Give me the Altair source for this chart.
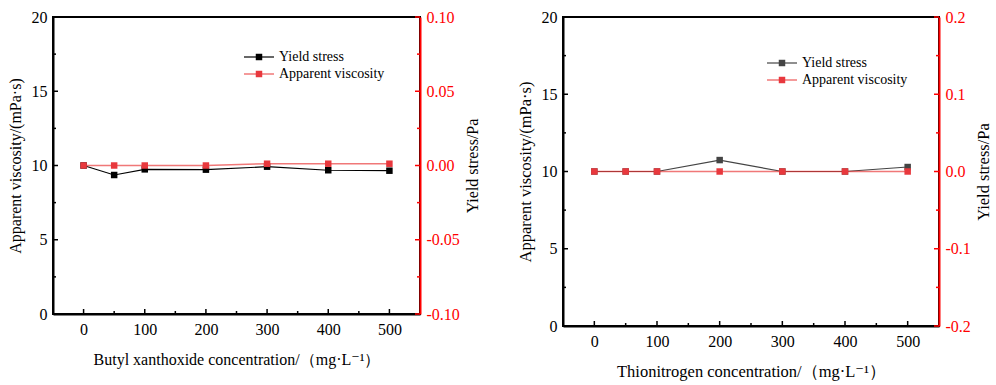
import altair as alt
import pandas as pd

# ---- data ----
conc = [0, 50, 100, 200, 300, 400, 500]
bx_black = [10.0, 9.36, 9.74, 9.72, 9.92, 9.68, 9.65]       # left panel, left axis
bx_red = [0.0, 0.0, 0.0, 0.0, 0.0012, 0.0012, 0.0012]         # left panel, right axis
tn_black = [10.0, 10.0, 10.0, 10.74, 10.0, 10.0, 10.29]     # right panel, left axis
tn_red = [0.0, 0.0, 0.0, 0.0, 0.0, 0.0, 0.0]                  # right panel, right axis

x_major = [0, 100, 200, 300, 400, 500]
x_minor = [50, 150, 250, 350, 450]
yl_major = [0, 5, 10, 15, 20]
yl_minor = [2.5, 7.5, 12.5, 17.5]
bx_r_major = [-0.1, -0.05, 0.0, 0.05, 0.1]
bx_r_minor = [-0.075, -0.025, 0.025, 0.075]
tn_r_major = [-0.2, -0.1, 0.0, 0.1, 0.2]
tn_r_minor = [-0.15, -0.05, 0.05, 0.15]

series_names = ["Yield stress", "Apparent viscosity"]
x_titles = ["Butyl xanthoxide concentration/（mg·L⁻¹）", "Thionitrogen concentration/（mg·L⁻¹）"]
y_left_title = "Apparent viscosity/(mPa·s)"
y_right_title = "Yield stress/Pa"

SERIF = "'Liberation Serif', 'Times New Roman', Times, 'DejaVu Serif', serif"
RED_AXIS = "#ff0000"
RED_MARK = "#e8383d"


def panel(black_vals, red_vals, xtitle, r_domain, r_major, r_minor, r_fmt,
          w, h, black, leg_x, leg_y, tsize):
    df = pd.DataFrame({"conc": conc, "black": black_vals, "red": red_vals})
    one = pd.DataFrame({"a": [0]})

    common = dict(labelFont=SERIF, titleFont=SERIF, labelFontSize=16,
                  titleFontSize=tsize, titleFontWeight="normal", grid=False,
                  tickSize=0, domainWidth=2)

    xscale = alt.Scale(domain=[-50, 550], nice=False, zero=False)
    xaxis = alt.Axis(values=x_major, title=xtitle, labelPadding=7, titlePadding=14,
                     domainColor="black", labelColor="black", titleColor="black",
                     **common)

    def X(f):
        return alt.X(f, scale=xscale, axis=xaxis)

    lscale = alt.Scale(domain=[0, 20], nice=False, zero=False)
    laxis = alt.Axis(values=yl_major, title=y_left_title, orient="left",
                     labelPadding=6, titlePadding=8, domainColor="black",
                     labelColor="black", titleColor="black", **common)

    def YL(f):
        return alt.Y(f, scale=lscale, axis=laxis)

    rscale = alt.Scale(domain=r_domain, nice=False, zero=False)
    raxis = alt.Axis(values=r_major, title=y_right_title, orient="right",
                     titleAngle=270, titleBaseline="top", labelPadding=6, titlePadding=5,
                     domainColor=RED_AXIS, labelColor=RED_AXIS, titleColor="black",
                     labelExpr=f"datum.value < -1e-9 ? '-' + format(-datum.value, '{r_fmt}') : format(abs(datum.value), '{r_fmt}')",
                     **common)

    def YR(f):
        return alt.Y(f, scale=rscale, axis=raxis)

    black_line = alt.Chart(df).mark_line(color=black, strokeWidth=1.2).encode(x=X("conc:Q"), y=YL("black:Q"))
    black_pts = alt.Chart(df).mark_point(shape="square", filled=True, size=42, color=black, opacity=1).encode(x=X("conc:Q"), y=YL("black:Q"))
    lt_major = alt.Chart(pd.DataFrame({"v": yl_major})).mark_rule(color="black", strokeWidth=1.5).encode(
        y=YL("v:Q"), x=alt.value(0), x2=alt.value(5))
    lt_minor = alt.Chart(pd.DataFrame({"v": yl_minor})).mark_rule(color="black", strokeWidth=1.5).encode(
        y=YL("v:Q"), x=alt.value(0), x2=alt.value(3))
    bt_major = alt.Chart(pd.DataFrame({"conc": x_major})).mark_rule(color="black", strokeWidth=1.5).encode(
        x=X("conc:Q"), y=alt.value(h - 5), y2=alt.value(h))
    bt_minor = alt.Chart(pd.DataFrame({"conc": x_minor})).mark_rule(color="black", strokeWidth=1.5).encode(
        x=X("conc:Q"), y=alt.value(h - 3), y2=alt.value(h))
    left_layer = alt.layer(black_line, black_pts, lt_major, lt_minor, bt_major, bt_minor)

    red_line = alt.Chart(df).mark_line(color="#e83030", strokeWidth=1.5, opacity=0.65).encode(x=X("conc:Q"), y=YR("red:Q"))
    red_pts = alt.Chart(df).mark_point(shape="square", filled=True, size=42, color=RED_MARK, opacity=1).encode(x=X("conc:Q"), y=YR("red:Q"))
    rt_major = alt.Chart(pd.DataFrame({"v": r_major})).mark_rule(color=RED_AXIS, strokeWidth=1.5).encode(
        y=YR("v:Q"), x=alt.value(w - 5), x2=alt.value(w))
    rt_minor = alt.Chart(pd.DataFrame({"v": r_minor})).mark_rule(color=RED_AXIS, strokeWidth=1.5).encode(
        y=YR("v:Q"), x=alt.value(w - 3), x2=alt.value(w))
    right_layer = alt.layer(red_line, red_pts, rt_major, rt_minor)

    legend = []
    styles = [(black, black, 1.2, 1.0), ("#e83030", RED_MARK, 1.5, 0.65)]
    for i, (name, (lc, mc, sw, op)) in enumerate(zip(series_names, styles)):
        yy = leg_y + i * 17
        legend.append(alt.Chart(one).mark_rule(color=lc, strokeWidth=sw, opacity=op).encode(
            x=alt.value(leg_x), x2=alt.value(leg_x + 30), y=alt.value(yy)))
        legend.append(alt.Chart(one).mark_point(shape="square", filled=True, size=42, color=mc, opacity=1).encode(
            x=alt.value(leg_x + 15), y=alt.value(yy)))
        legend.append(alt.Chart(one).mark_text(text=name, align="left", baseline="middle", font=SERIF,
                                               fontSize=14, color="black").encode(
            x=alt.value(leg_x + 35), y=alt.value(yy)))

    return alt.layer(left_layer, right_layer, *legend).resolve_scale(y="independent").properties(width=w, height=h)


p1 = panel(bx_black, bx_red, x_titles[0], [-0.1, 0.1], bx_r_major, bx_r_minor, ".2f",
           367, 297, "#000000", 191, 40, 16)
p2 = panel(tn_black, tn_red, x_titles[1], [-0.2, 0.2], tn_r_major, tn_r_minor, ".1f",
           376, 309, "#444444", 204, 46, 16.5)

chart = alt.hconcat(p1, p2, spacing=34).properties(
    padding={"left": 6, "top": 8, "right": 0, "bottom": 0},
    background="white",
).configure(font=SERIF).configure_view(stroke="black", strokeWidth=2)

chart.save("out.html", embed_options={"renderer": "svg", "actions": False})
